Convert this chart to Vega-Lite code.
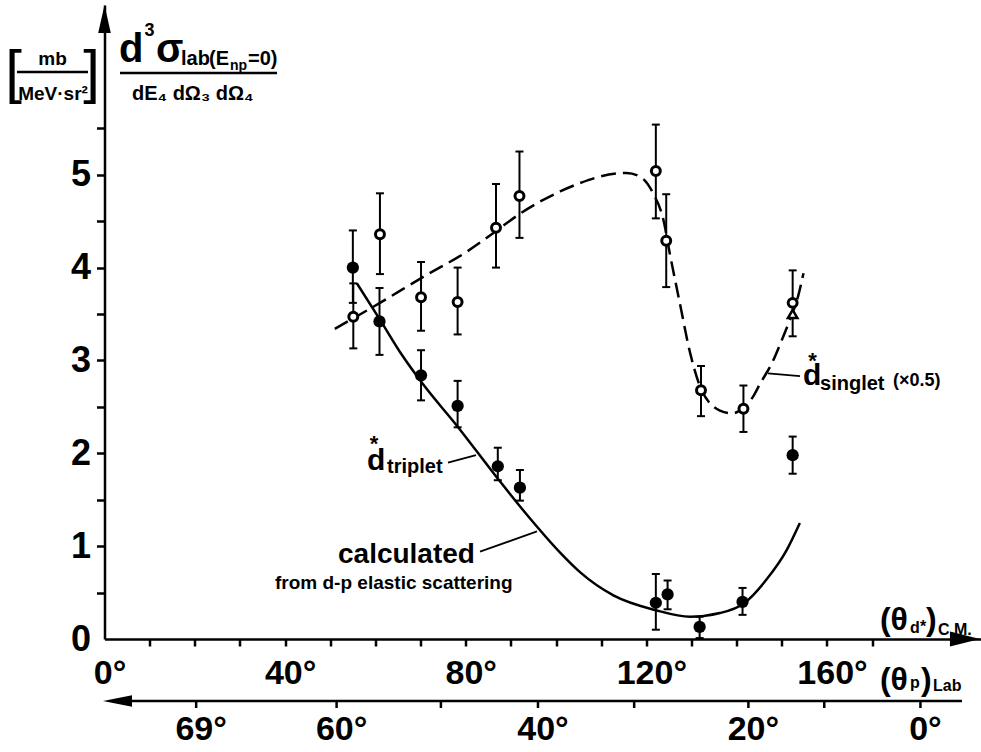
{
  "$schema": "https://vega.github.io/schema/vega-lite/v6.json",
  "width": 876,
  "height": 634,
  "autosize": {"type": "none"},
  "padding": {"left": 104.5, "top": 5, "right": 0.5, "bottom": 113},
  "background": "white",
  "config": {
    "view": {"stroke": null},
    "font": "Liberation Sans, sans-serif",
    "text": {"fontWeight": "bold", "color": "black"}
  },
  "datasets": {
    "singlet": [
      {"x": 55.1, "y": 3.47, "lo": 3.13, "hi": 3.83},
      {"x": 61.0, "y": 4.36, "lo": 3.93, "hi": 4.80},
      {"x": 70.1, "y": 3.68, "lo": 3.32, "hi": 4.06},
      {"x": 78.2, "y": 3.63, "lo": 3.28, "hi": 4.00},
      {"x": 86.7, "y": 4.43, "lo": 4.00, "hi": 4.90},
      {"x": 91.9, "y": 4.77, "lo": 4.32, "hi": 5.25},
      {"x": 122.1, "y": 5.04, "lo": 4.53, "hi": 5.54},
      {"x": 124.4, "y": 4.29, "lo": 3.79, "hi": 4.79},
      {"x": 132.1, "y": 2.68, "lo": 2.40, "hi": 2.94},
      {"x": 141.5, "y": 2.48, "lo": 2.23, "hi": 2.73},
      {"x": 152.4, "y": 3.62, "lo": 3.26, "hi": 3.97}
    ],
    "triplet": [
      {"x": 55.0, "y": 4.00, "lo": 3.62, "hi": 4.40},
      {"x": 60.9, "y": 3.42, "lo": 3.06, "hi": 3.78},
      {"x": 70.1, "y": 2.84, "lo": 2.57, "hi": 3.11},
      {"x": 78.2, "y": 2.51, "lo": 2.28, "hi": 2.78},
      {"x": 87.1, "y": 1.86, "lo": 1.71, "hi": 2.06},
      {"x": 92.0, "y": 1.63, "lo": 1.49, "hi": 1.82},
      {"x": 122.1, "y": 0.39, "lo": 0.10, "hi": 0.70},
      {"x": 124.7, "y": 0.48, "lo": 0.32, "hi": 0.63},
      {"x": 131.8, "y": 0.13, "lo": 0.01, "hi": 0.24},
      {"x": 141.3, "y": 0.40, "lo": 0.26, "hi": 0.55},
      {"x": 152.4, "y": 1.98, "lo": 1.78, "hi": 2.18}
    ],
    "triangle": [{"x": 152.4, "y": 3.50}],
    "calc": [
      {"x": 55.9, "y": 3.83}, {"x": 61.0, "y": 3.44}, {"x": 66.0, "y": 3.05},
      {"x": 70.6, "y": 2.74}, {"x": 78.0, "y": 2.30}, {"x": 86.9, "y": 1.74},
      {"x": 94.2, "y": 1.30}, {"x": 100.9, "y": 0.93}, {"x": 105.3, "y": 0.72},
      {"x": 112.7, "y": 0.47}, {"x": 122.1, "y": 0.31}, {"x": 129.7, "y": 0.24},
      {"x": 136.3, "y": 0.28}, {"x": 141.5, "y": 0.38}, {"x": 146.6, "y": 0.64},
      {"x": 151.1, "y": 0.96}, {"x": 154.0, "y": 1.25}
    ],
    "scurve": [
      {"x": 51.0, "y": 3.34}, {"x": 61.0, "y": 3.62}, {"x": 70.6, "y": 3.90},
      {"x": 80.2, "y": 4.17}, {"x": 86.9, "y": 4.40}, {"x": 92.0, "y": 4.58},
      {"x": 100.9, "y": 4.82}, {"x": 105.3, "y": 4.91}, {"x": 109.7, "y": 4.98},
      {"x": 115.6, "y": 5.02}, {"x": 118.6, "y": 4.98}, {"x": 121.5, "y": 4.80},
      {"x": 123.8, "y": 4.51}, {"x": 125.2, "y": 4.15}, {"x": 127.4, "y": 3.62},
      {"x": 129.7, "y": 3.08}, {"x": 131.9, "y": 2.72}, {"x": 136.3, "y": 2.46},
      {"x": 139.0, "y": 2.43}, {"x": 141.5, "y": 2.49}, {"x": 143.5, "y": 2.60},
      {"x": 145.2, "y": 2.75}, {"x": 147.8, "y": 2.97}, {"x": 150.0, "y": 3.22},
      {"x": 151.8, "y": 3.44}, {"x": 153.6, "y": 3.69}, {"x": 154.8, "y": 3.94}
    ],
    "labticks": [
      {"cm": 20.3, "label": "69°"}, {"cm": 51.4, "label": "60°"},
      {"cm": 74.5, "label": ""}, {"cm": 96.0, "label": "40°"},
      {"cm": 117.3, "label": ""}, {"cm": 142.6, "label": "20°"},
      {"cm": 159.4, "label": ""}, {"cm": 180.7, "label": "0°"}
    ],
    "leaders": [
      {"x": 76.07, "y": 1.90, "x2": 82.27, "y2": 1.98},
      {"x": 83.16, "y": 0.94, "x2": 95.78, "y2": 1.16},
      {"x": 146.94, "y": 2.86, "x2": 154.03, "y2": 2.83}
    ],
    "bars": [
      {"x": -19.38, "y": 6.107, "x2": -3.65, "y2": 6.107},
      {"x": 3.43, "y": 6.096, "x2": 38.2, "y2": 6.096}
    ],
    "t40": [{"t": "d", "x": 3.21, "y": 6.214}, {"t": "σ", "x": 11.41, "y": 6.214}],
    "t30": [{"t": "d", "x": 58.13, "y": 1.82}, {"t": "d", "x": 154.69, "y": 2.74}],
    "t28": [{"t": "calculated", "x": 51.71, "y": 0.82}],
    "t32": [
      {"t": "(θ", "x": 171.73, "y": 0.097}, {"t": ")", "x": 181.93, "y": 0.097},
      {"t": "(θ", "x": 171.73, "y": -0.549}, {"t": ")", "x": 180.82, "y": -0.549}
    ],
    "t20": [
      {"t": "lab", "x": 16.94, "y": 6.182},
      {"t": "(E", "x": 23.14, "y": 6.182}, {"t": "=0)", "x": 31.78, "y": 6.182},
      {"t": "dE₄ dΩ₃ dΩ₄", "x": 6.09, "y": 5.805},
      {"t": "triplet", "x": 62.56, "y": 1.79}, {"t": "singlet", "x": 158.46, "y": 2.68}
    ],
    "t19": [{"t": "from d-p elastic scattering", "x": 37.76, "y": 0.54}],
    "tsup": [{"t": "3", "x": 8.86, "y": 6.49}],
    "tstar": [{"t": "*", "x": 59.7, "y": 2.02}, {"t": "*", "x": 156.8, "y": 2.92}],
    "tunits": [{"t": "mb", "x": -11.52, "y": 6.18}, {"t": "MeV·sr²", "x": -11.4, "y": 5.805}],
    "t16": [
      {"t": "d", "x": 178.39, "y": 0.065}, {"t": "*", "x": 180.6, "y": 0.075},
      {"t": "C.M.", "x": 184.59, "y": 0.043},
      {"t": "p", "x": 178.39, "y": -0.528}, {"t": "Lab", "x": 183.48, "y": -0.56}
    ],
    "t14": [{"t": "np", "x": 27.8, "y": 6.128}],
    "t18": [{"t": "(×0.5)", "x": 174.63, "y": 2.72}],
    "brackets": [{"t": "[", "x": -20.15, "y": 5.89}, {"t": "]", "x": -2.88, "y": 5.89}],
    "one": [{"k": 1}]
  },
  "layer": [
    {
      "data": {"name": "calc"},
      "mark": {"type": "line", "color": "black", "strokeWidth": 2.5, "interpolate": "monotone"},
      "encoding": {
        "x": {
          "field": "x", "type": "quantitative",
          "scale": {"domain": [0, 194], "nice": false},
          "axis": {
            "values": [0, 10, 20, 30, 40, 50, 60, 70, 80, 90, 100, 110, 120, 130, 140, 150, 160, 170],
            "title": null, "grid": false,
            "domainColor": "black", "domainWidth": 2.5,
            "tickColor": {"condition": {"test": "datum.value == 0", "value": "transparent"}, "value": "black"},
            "tickSize": 7, "tickWidth": 2.5,
            "labelExpr": "datum.value % 40 == 0 ? format(datum.value, 'd') + '°' : ''",
            "labelFont": "Liberation Sans, sans-serif",
            "labelFontSize": 34, "labelFontWeight": "bold", "labelColor": "black",
            "labelBaseline": "alphabetic", "labelPadding": 37, "labelOffset": 5,
            "labelFlush": false, "labelOverlap": false
          }
        },
        "y": {
          "field": "y", "type": "quantitative",
          "scale": {"domain": [0, 6.828], "nice": false},
          "axis": {
            "values": [0, 0.5, 1, 1.5, 2, 2.5, 3, 3.5, 4, 4.5, 5, 5.5],
            "title": null, "grid": false,
            "domainColor": "black", "domainWidth": 2.5,
            "tickColor": {"condition": {"test": "datum.value == 0", "value": "transparent"}, "value": "black"},
            "tickSize": 8, "tickWidth": 2.5,
            "labelExpr": "datum.value % 1 == 0 ? format(datum.value, 'd') : ''",
            "labelFont": "Liberation Sans, sans-serif",
            "labelFontSize": 36, "labelFontWeight": "bold", "labelColor": "black",
            "labelBaseline": "middle", "labelPadding": 6,
            "labelFlush": false, "labelOverlap": false
          }
        }
      }
    },
    {
      "data": {"name": "scurve"},
      "mark": {"type": "line", "color": "black", "strokeWidth": 2.5, "strokeDash": [15, 7], "interpolate": "monotone"},
      "encoding": {
        "x": {"field": "x", "type": "quantitative", "title": null},
        "y": {"field": "y", "type": "quantitative", "title": null}
      }
    },
    {
      "data": {"name": "singlet"},
      "mark": {"type": "rule", "color": "black", "strokeWidth": 2},
      "encoding": {
        "x": {"field": "x", "type": "quantitative", "title": null},
        "y": {"field": "lo", "type": "quantitative", "title": null}, "y2": {"field": "hi"}
      }
    },
    {
      "data": {"name": "triplet"},
      "mark": {"type": "rule", "color": "black", "strokeWidth": 2},
      "encoding": {
        "x": {"field": "x", "type": "quantitative", "title": null},
        "y": {"field": "lo", "type": "quantitative", "title": null}, "y2": {"field": "hi"}
      }
    },
    {
      "data": {"name": "singlet"},
      "mark": {"type": "tick", "orient": "horizontal", "color": "black", "size": 8, "thickness": 2, "opacity": 1},
      "encoding": {
        "x": {"field": "x", "type": "quantitative", "title": null},
        "y": {"field": "lo", "type": "quantitative", "title": null}
      }
    },
    {
      "data": {"name": "singlet"},
      "mark": {"type": "tick", "orient": "horizontal", "color": "black", "size": 8, "thickness": 2, "opacity": 1},
      "encoding": {
        "x": {"field": "x", "type": "quantitative", "title": null},
        "y": {"field": "hi", "type": "quantitative", "title": null}
      }
    },
    {
      "data": {"name": "triplet"},
      "mark": {"type": "tick", "orient": "horizontal", "color": "black", "size": 8, "thickness": 2, "opacity": 1},
      "encoding": {
        "x": {"field": "x", "type": "quantitative", "title": null},
        "y": {"field": "lo", "type": "quantitative", "title": null}
      }
    },
    {
      "data": {"name": "triplet"},
      "mark": {"type": "tick", "orient": "horizontal", "color": "black", "size": 8, "thickness": 2, "opacity": 1},
      "encoding": {
        "x": {"field": "x", "type": "quantitative", "title": null},
        "y": {"field": "hi", "type": "quantitative", "title": null}
      }
    },
    {
      "data": {"name": "triangle"},
      "mark": {"type": "point", "shape": "triangle-up", "filled": true, "fill": "white", "stroke": "black", "strokeWidth": 2.5, "size": 90, "opacity": 1},
      "encoding": {
        "x": {"field": "x", "type": "quantitative", "title": null},
        "y": {"field": "y", "type": "quantitative", "title": null}
      }
    },
    {
      "data": {"name": "singlet"},
      "mark": {"type": "point", "shape": "circle", "filled": true, "fill": "white", "stroke": "black", "strokeWidth": 3, "size": 80, "opacity": 1},
      "encoding": {
        "x": {"field": "x", "type": "quantitative", "title": null},
        "y": {"field": "y", "type": "quantitative", "title": null}
      }
    },
    {
      "data": {"name": "triplet"},
      "mark": {"type": "point", "shape": "circle", "filled": true, "color": "black", "size": 150, "opacity": 1},
      "encoding": {
        "x": {"field": "x", "type": "quantitative", "title": null},
        "y": {"field": "y", "type": "quantitative", "title": null}
      }
    },
    {
      "data": {"name": "leaders"},
      "mark": {"type": "rule", "color": "black", "strokeWidth": 1.8},
      "encoding": {
        "x": {"field": "x", "type": "quantitative", "title": null},
        "y": {"field": "y", "type": "quantitative", "title": null},
        "x2": {"field": "x2"}, "y2": {"field": "y2"}
      }
    },
    {
      "data": {"name": "bars"},
      "mark": {"type": "rule", "color": "black", "strokeWidth": 2.5},
      "encoding": {
        "x": {"field": "x", "type": "quantitative", "title": null},
        "y": {"field": "y", "type": "quantitative", "title": null},
        "x2": {"field": "x2"}, "y2": {"field": "y2"}
      }
    },
    {
      "data": {"name": "one"},
      "mark": {"type": "point", "shape": "M1,0L-1,-0.5L-1,0.5Z", "filled": true, "color": "black", "size": 900, "opacity": 1, "strokeWidth": 0},
      "encoding": {"x": {"datum": 190.56, "type": "quantitative", "title": null}, "y": {"datum": 0, "type": "quantitative", "title": null}}
    },
    {
      "data": {"name": "one"},
      "mark": {"type": "point", "shape": "M0,-1L0.45,1L-0.45,1Z", "filled": true, "color": "black", "size": 784, "opacity": 1, "strokeWidth": 0},
      "encoding": {"x": {"datum": 0, "type": "quantitative", "title": null}, "y": {"datum": 6.677, "type": "quantitative", "title": null}}
    },
    {
      "data": {"name": "one"},
      "mark": {"type": "point", "shape": "M-1,0L1,-0.4L1,0.4Z", "filled": true, "color": "black", "size": 841, "opacity": 1, "strokeWidth": 0},
      "encoding": {"x": {"datum": 2.88, "type": "quantitative", "title": null}, "y": {"datum": -0.668, "type": "quantitative", "title": null}}
    },
    {
      "data": {"name": "one"},
      "mark": {"type": "rule", "color": "black", "strokeWidth": 2.5},
      "encoding": {"x": {"datum": 2.88, "type": "quantitative", "title": null}, "x2": {"datum": 189.9}, "y": {"datum": -0.668, "type": "quantitative", "title": null}}
    },
    {
      "data": {"name": "labticks"},
      "mark": {"type": "rule", "color": "black", "strokeWidth": 2.5},
      "encoding": {"x": {"field": "cm", "type": "quantitative", "title": null}, "y": {"datum": -0.668, "type": "quantitative", "title": null}, "y2": {"datum": -0.743}}
    },
    {
      "data": {"name": "labticks"},
      "transform": [{"filter": "datum.label != ''"}],
      "mark": {"type": "text", "fontSize": 34, "align": "center", "baseline": "alphabetic", "dx": 5},
      "encoding": {"x": {"field": "cm", "type": "quantitative", "title": null}, "y": {"datum": -1.088, "type": "quantitative", "title": null}, "text": {"field": "label"}}
    },
    {
      "data": {"name": "t40"},
      "mark": {"type": "text", "fontSize": 40, "align": "left", "baseline": "alphabetic"},
      "encoding": {"x": {"field": "x", "type": "quantitative", "title": null}, "y": {"field": "y", "type": "quantitative", "title": null}, "text": {"field": "t"}}
    },
    {
      "data": {"name": "t30"},
      "mark": {"type": "text", "fontSize": 30, "align": "left", "baseline": "alphabetic"},
      "encoding": {"x": {"field": "x", "type": "quantitative", "title": null}, "y": {"field": "y", "type": "quantitative", "title": null}, "text": {"field": "t"}}
    },
    {
      "data": {"name": "t28"},
      "mark": {"type": "text", "fontSize": 28, "align": "left", "baseline": "alphabetic"},
      "encoding": {"x": {"field": "x", "type": "quantitative", "title": null}, "y": {"field": "y", "type": "quantitative", "title": null}, "text": {"field": "t"}}
    },
    {
      "data": {"name": "t32"},
      "mark": {"type": "text", "fontSize": 32, "align": "left", "baseline": "alphabetic"},
      "encoding": {"x": {"field": "x", "type": "quantitative", "title": null}, "y": {"field": "y", "type": "quantitative", "title": null}, "text": {"field": "t"}}
    },
    {
      "data": {"name": "t20"},
      "mark": {"type": "text", "fontSize": 20, "align": "left", "baseline": "alphabetic"},
      "encoding": {"x": {"field": "x", "type": "quantitative", "title": null}, "y": {"field": "y", "type": "quantitative", "title": null}, "text": {"field": "t"}}
    },
    {
      "data": {"name": "tsup"},
      "mark": {"type": "text", "fontSize": 18, "align": "left", "baseline": "alphabetic"},
      "encoding": {"x": {"field": "x", "type": "quantitative", "title": null}, "y": {"field": "y", "type": "quantitative", "title": null}, "text": {"field": "t"}}
    },
    {
      "data": {"name": "t19"},
      "mark": {"type": "text", "fontSize": 19, "align": "left", "baseline": "alphabetic"},
      "encoding": {"x": {"field": "x", "type": "quantitative", "title": null}, "y": {"field": "y", "type": "quantitative", "title": null}, "text": {"field": "t"}}
    },
    {
      "data": {"name": "tstar"},
      "mark": {"type": "text", "fontSize": 22, "align": "center", "baseline": "alphabetic"},
      "encoding": {"x": {"field": "x", "type": "quantitative", "title": null}, "y": {"field": "y", "type": "quantitative", "title": null}, "text": {"field": "t"}}
    },
    {
      "data": {"name": "tunits"},
      "mark": {"type": "text", "fontSize": 19, "align": "center", "baseline": "alphabetic"},
      "encoding": {"x": {"field": "x", "type": "quantitative", "title": null}, "y": {"field": "y", "type": "quantitative", "title": null}, "text": {"field": "t"}}
    },
    {
      "data": {"name": "t16"},
      "mark": {"type": "text", "fontSize": 16, "align": "left", "baseline": "alphabetic"},
      "encoding": {"x": {"field": "x", "type": "quantitative", "title": null}, "y": {"field": "y", "type": "quantitative", "title": null}, "text": {"field": "t"}}
    },
    {
      "data": {"name": "t14"},
      "mark": {"type": "text", "fontSize": 14, "align": "left", "baseline": "alphabetic"},
      "encoding": {"x": {"field": "x", "type": "quantitative", "title": null}, "y": {"field": "y", "type": "quantitative", "title": null}, "text": {"field": "t"}}
    },
    {
      "data": {"name": "t18"},
      "mark": {"type": "text", "fontSize": 18, "align": "left", "baseline": "alphabetic"},
      "encoding": {"x": {"field": "x", "type": "quantitative", "title": null}, "y": {"field": "y", "type": "quantitative", "title": null}, "text": {"field": "t"}}
    },
    {
      "data": {"name": "brackets"},
      "mark": {"type": "text", "fontSize": 60, "fontWeight": "normal", "align": "center", "baseline": "alphabetic"},
      "encoding": {"x": {"field": "x", "type": "quantitative", "title": null}, "y": {"field": "y", "type": "quantitative", "title": null}, "text": {"field": "t"}}
    }
  ]
}
